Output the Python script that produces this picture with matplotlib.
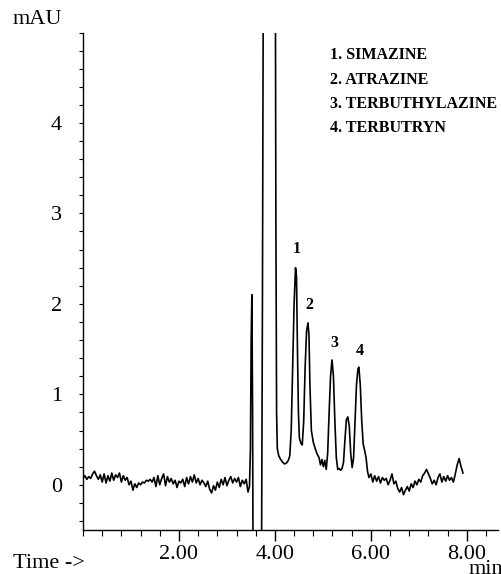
import numpy as np
import matplotlib
matplotlib.use("Agg")
import matplotlib.pyplot as plt
from matplotlib.ticker import MultipleLocator, FixedLocator

plt.rcParams['font.family'] = ['Liberation Serif', 'DejaVu Serif']

# noisy baseline before the injection peaks, sampled every 0.04 min
base_start = 0.0
base_values = [0.07, 0.10, 0.06, 0.09, 0.07, 0.12, 0.15, 0.10, 0.06, 0.11,
               0.03, 0.12, 0.02, 0.10, 0.04, 0.13, 0.05, 0.11, 0.08, 0.13,
               0.03, 0.10, 0.05, 0.08, 0.00, 0.04, -0.06, 0.01, -0.03, 0.02,
               0.00, 0.03, 0.02, 0.05, 0.04, 0.06, 0.03, 0.08, -0.02, 0.10,
               0.00, 0.07, 0.12, -0.01, 0.09, 0.03, 0.07, 0.01, 0.05, -0.03,
               0.04, 0.02, 0.06, -0.02, 0.08, 0.01, 0.09, 0.03, 0.11, 0.02,
               0.07, 0.00, 0.05, 0.02, -0.02, 0.04, -0.05, -0.09, -0.01, -0.06,
               0.03, -0.03, 0.06, 0.00, 0.08, -0.01, 0.05, 0.09, 0.02, 0.07,
               0.03, 0.08, -0.02, 0.05, 0.01, 0.06, -0.08]

# peak region (solvent front, off-scale peaks and the four triazines)
peak_times = [3.47, 3.49, 3.505, 3.52, 3.535, 3.545, 3.56, 3.70, 3.72, 3.74,
              3.76, 3.80, 4.00, 4.02, 4.035, 4.05, 4.08, 4.12, 4.16, 4.20,
              4.24, 4.28, 4.31, 4.34, 4.37, 4.40, 4.43, 4.45, 4.47, 4.49,
              4.51, 4.54, 4.57, 4.60, 4.63, 4.66, 4.69, 4.71, 4.73, 4.76,
              4.80, 4.84, 4.88, 4.92, 4.95, 4.98, 5.01, 5.04, 5.07, 5.10,
              5.13, 5.16, 5.19, 5.22, 5.25, 5.28, 5.31, 5.34, 5.37, 5.40,
              5.43, 5.46, 5.49, 5.52, 5.55, 5.58, 5.61, 5.64, 5.67, 5.70,
              5.73, 5.75, 5.78, 5.81, 5.84, 5.87, 5.90, 5.93, 5.96]
peak_values = [-0.02, 0.4, 1.6, 2.10, 0.8, -1.0, -3.0, -3.0, -1.0, 2.0,
               6.0, 8.0, 8.0, 3.0, 0.8, 0.40, 0.32, 0.28, 0.25, 0.23,
               0.24, 0.27, 0.32, 0.6, 1.3, 2.0, 2.40, 2.3, 1.5, 0.8,
               0.52, 0.46, 0.44, 0.7, 1.3, 1.7, 1.79, 1.65, 1.1, 0.6,
               0.47, 0.40, 0.34, 0.30, 0.22, 0.28, 0.20, 0.27, 0.17, 0.35,
               0.8, 1.2, 1.38, 1.2, 0.7, 0.30, 0.17, 0.18, 0.16, 0.18,
               0.25, 0.5, 0.72, 0.75, 0.65, 0.35, 0.19, 0.3, 0.7, 1.1,
               1.28, 1.30, 1.1, 0.7, 0.45, 0.38, 0.30, 0.15, 0.08]

# tail baseline after the last peak, sampled every 0.04 min
tail_start = 6.0
tail_values = [0.12, 0.03, 0.10, 0.04, 0.09, 0.02, 0.08, 0.05, 0.07, 0.00,
               0.05, 0.12, 0.01, 0.04, -0.04, -0.08, -0.03, -0.11, -0.06, -0.02,
               -0.07, 0.01, -0.03, 0.04, 0.00, 0.06, 0.03, 0.10, 0.13, 0.17,
               0.12, 0.07, 0.01, 0.05, 0.00, 0.08, 0.12, 0.03, 0.09, 0.04,
               0.10, 0.05, 0.08, 0.03, 0.12, 0.22, 0.29, 0.20, 0.13]

step = 0.04
compounds = ['1. SIMAZINE', '2. ATRAZINE', '3. TERBUTHYLAZINE', '4. TERBUTRYN']
peak_labels = ['1', '2', '3', '4']
peak_label_t = [4.46, 4.71, 5.23, 5.77]
peak_label_y = [2.61, 1.99, 1.57, 1.48]

t = np.concatenate([base_start + step * np.arange(len(base_values)),
                    peak_times,
                    tail_start + step * np.arange(len(tail_values))])
y = np.concatenate([base_values, peak_values, tail_values])

fig = plt.figure(figsize=(5.01, 5.74), dpi=100)
ax = fig.add_axes([83 / 501, 44 / 574, 415 / 501, 497.5 / 574])

ax.plot(t, y, color='black', lw=1.2)

ax.set_xlim(0, 8.65)
ax.set_ylim(-0.5, 5.0)

for s in ['top', 'right']:
    ax.spines[s].set_visible(False)
for s in ['left', 'bottom']:
    ax.spines[s].set_linewidth(1.0)

ax.xaxis.set_major_locator(FixedLocator([2, 4, 6, 8]))
ax.set_xticklabels(['2.00', '4.00', '6.00', '8.00'])
ax.xaxis.set_minor_locator(MultipleLocator(0.4))
ax.yaxis.set_major_locator(FixedLocator([0, 1, 2, 3, 4]))
ax.set_yticklabels(['0', '1', '2', '3', '4'])
ax.yaxis.set_minor_locator(MultipleLocator(0.2))

ax.tick_params(axis='x', which='major', length=8, width=1.0, pad=3, labelsize=16)
ax.tick_params(axis='x', which='minor', length=4, width=0.8)
ax.tick_params(axis='y', which='major', length=3, width=0.8, pad=12, labelsize=16)
ax.tick_params(axis='y', which='minor', length=3, width=0.8)

for lab, tx, ty in zip(peak_labels, peak_label_t, peak_label_y):
    ax.text(tx, ty, lab, ha='center', va='center', fontsize=11.5, fontweight='bold')

for i, name in enumerate(compounds):
    ax.text(5.15, 4.75 - 0.27 * i, name, ha='left', va='center',
            fontsize=11.5, fontweight='bold')

fig.text(13 / 501, 1 - 20 / 574, 'mAU', ha='left', va='center', fontsize=16)
fig.text(13 / 501, 1 - 563 / 574, 'Time ->', ha='left', va='center', fontsize=16)
fig.text(469 / 501, 0.5 / 574, 'min', ha='left', va='baseline', fontsize=16)

fig.savefig('out.png', dpi=100)
